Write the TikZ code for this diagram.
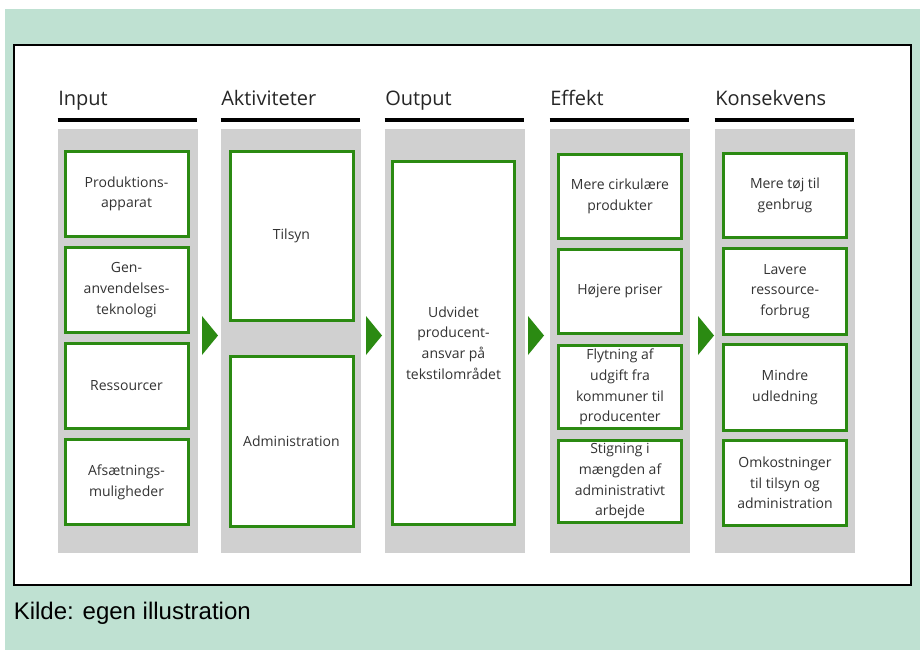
\documentclass[tikz,border=0pt]{standalone}
\usepackage{fontspec}
\setmainfont{Open Sans}
\newfontfamily\kildefont{Liberation Sans}

\definecolor{mint}{HTML}{BFE1D2}
\definecolor{colgray}{HTML}{D0D0D0}
\definecolor{boxgreen}{HTML}{2B8A12}
\definecolor{txtgray}{HTML}{333333}

% one unit = one pixel of the 920x650 picture
\newlength{\pxu}
\setlength{\pxu}{0.75pt}

\begin{document}
\begin{tikzpicture}[x=\pxu, y=-\pxu,
    colbg/.style={fill=colgray, inner sep=0, outer sep=0, anchor=north west,
        minimum width=140\pxu, minimum height=424\pxu},
    gbox/.style={draw=boxgreen, fill=white, line width=3\pxu, inner sep=0,
        align=center, text=txtgray, minimum width=123\pxu,
        font=\fontsize{10.5}{15.5}\selectfont},
    heading/.style={anchor=base west, inner sep=0, text=black!85,
        font=\fontsize{15}{18}\selectfont},
    headline/.style={line width=3.5\pxu, black}]
    \useasboundingbox (0,0) rectangle (920,650);
    \fill[white] (0,0) rectangle (920,650);
    \fill[mint] (5,9) rectangle (920,650);
    \draw[line width=2\pxu, fill=white] (13.5,45) rectangle (910.5,585);

    % columns with headings
    \foreach \x/\name [count=\i] in {58/Input,221/Aktiviteter,385/Output,550/Effekt,715/Konsekvens}{
        \node[colbg] (col\i) at (\x,129) {};
        \node[heading] (head\i) at (\x,105.5) {\name};
        \draw[headline] (\x-0.5,120) -- ++(139,0);
    }

    % arrows between the columns
    \foreach \x in {202,366,528,698}
        \fill[boxgreen] (\x,316) -- (\x+16,335.5) -- (\x,355) -- cycle;

    % Input
    \node[gbox, minimum height=85\pxu] (prod) at (126.5,194) {Produktions-\\apparat};
    \node[gbox, minimum height=85\pxu] (gen) at (126.5,290) {Gen-\\anvendelses-\\teknologi};
    \node[gbox, minimum height=85\pxu] (res) at (126.5,386) {Ressourcer};
    \node[gbox, minimum height=85\pxu] (afs) at (126.5,482) {Afsætnings-\\muligheder};

    % Aktiviteter
    \node[gbox, minimum height=169\pxu] (tilsyn) at (291.5,236) {Tilsyn};
    \node[gbox, minimum height=170\pxu] (admin) at (291.5,441.5) {Administration};

    % Output
    \node[gbox, minimum width=122\pxu, minimum height=363\pxu] (udv) at (453.5,343)
        {Udvidet\\producent-\\ansvar på\\tekstilområdet};

    % Effekt
    \node[gbox, minimum height=84\pxu] (cirk) at (620,196.5) {Mere cirkulære\\produkter};
    \node[gbox, minimum height=84\pxu] (priser) at (620,291.5) {Højere priser};
    \node[gbox, minimum height=83\pxu] (flyt) at (620,387) {Flytning af\\udgift fra\\kommuner til\\producenter};
    \node[gbox, minimum height=82\pxu] (stig) at (620,481.5) {Stigning i\\mængden af\\administrativt\\arbejde};

    % Konsekvens
    \node[gbox, minimum height=84\pxu] (toej) at (785,195.5) {Mere tøj til\\genbrug};
    \node[gbox, minimum height=86\pxu] (lavere) at (785,291.5) {Lavere\\ressource-\\forbrug};
    \node[gbox, minimum height=86\pxu] (udled) at (785,387.5) {Mindre\\udledning};
    \node[gbox, minimum height=85\pxu] (omk) at (785,483) {Omkostninger\\til tilsyn og\\administration};

    \node[anchor=base west, inner sep=0, font=\kildefont\fontsize{18}{21}\selectfont] (kilde)
        at (13.5,619) {Kilde: egen illustration};
\end{tikzpicture}
\end{document}
